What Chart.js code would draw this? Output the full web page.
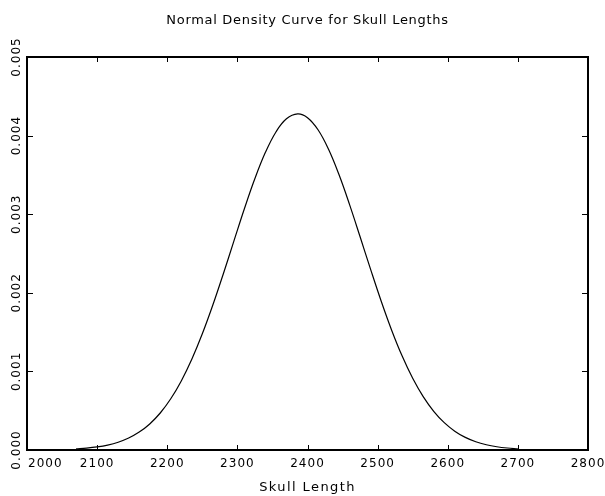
<!DOCTYPE html>
<html>
<head>
<meta charset="utf-8">
<script src="https://cdn.jsdelivr.net/npm/chart.js@4"></script>
<style>
  html, body { margin: 0; padding: 0; background: #fff; }
  #wrap { width: 605px; height: 496px; }
</style>
</head>
<body>
<div id="wrap"><canvas id="chart" width="605" height="496"></canvas></div>
<script>
// values
const skullLength = [2070, 2085, 2100, 2115, 2130, 2145, 2160, 2175, 2190, 2205, 2220, 2235, 2250, 2265, 2280, 2295, 2310, 2325, 2340, 2355, 2370, 2386,
                     2400, 2415, 2430, 2445, 2460, 2475, 2490, 2505, 2520, 2535, 2550, 2565, 2580, 2595, 2610, 2625, 2640, 2655, 2670, 2685, 2700];
const density     = [0.0000138, 0.0000235, 0.0000390, 0.0000629, 0.0000991, 0.0001521, 0.0002275, 0.0003315, 0.0004707, 0.0006515, 0.0008784,
                     0.0011541, 0.0014779, 0.0018442, 0.0022427, 0.0026572, 0.0030688, 0.0034532, 0.0037867, 0.0040464, 0.0042136, 0.0042760,
                     0.0042281, 0.0040743, 0.0038260, 0.0035011, 0.0031221, 0.0027130, 0.0022975, 0.0018958, 0.0015245, 0.0011946, 0.0009122,
                     0.0006789, 0.0004923, 0.0003479, 0.0002395, 0.0001607, 0.0001051, 0.0000670, 0.0000416, 0.0000252, 0.0000148];
const xTicks = [2000, 2100, 2200, 2300, 2400, 2500, 2600, 2700, 2800];
const yTicks = [0, 0.001, 0.002, 0.003, 0.004, 0.005];
const yTickLabels = ['0.000', '0.001', '0.002', '0.003', '0.004', '0.005'];

const chartTitle = 'Normal Density Curve for Skull Lengths';
const xTitle     = 'Skull Length';

const FONT = '"DejaVu Sans", sans-serif';

// frame, inward ticks and labels drawn from the chart's own scales
const framePlugin = {
    id: 'frame',
    afterDraw(chart) {
        const ctx = chart.ctx;
        const a   = chart.chartArea;
        const xs  = chart.scales.x;
        const ys  = chart.scales.y;

        ctx.save();
        ctx.strokeStyle = '#000';
        ctx.lineWidth = 2;
        ctx.strokeRect(a.left, a.top, a.right - a.left, a.bottom - a.top);

        ctx.lineWidth = 1;
        ctx.beginPath();
        xTicks.forEach(v => {
            const px = Math.round(xs.getPixelForValue(v)) + 0.5;
            ctx.moveTo(px, a.bottom); ctx.lineTo(px, a.bottom - 5);
            ctx.moveTo(px, a.top);    ctx.lineTo(px, a.top + 5);
        });
        yTicks.forEach(v => {
            const py = Math.round(ys.getPixelForValue(v)) + 0.5;
            ctx.moveTo(a.left, py);  ctx.lineTo(a.left + 6, py);
            ctx.moveTo(a.right, py); ctx.lineTo(a.right - 6, py);
        });
        ctx.stroke();

        ctx.fillStyle = '#000';
        ctx.font = '12px ' + FONT;
        ctx.letterSpacing = '1px';
        ctx.textBaseline = 'middle';
        xTicks.forEach((v, i) => {
            const px = xs.getPixelForValue(v);
            ctx.textAlign = i === 0 ? 'left' : 'center';
            ctx.fillText(String(v), i === 0 ? px + 1 : px, a.bottom + 14);
        });

        yTicks.forEach((v, i) => {
            const py = ys.getPixelForValue(v);
            ctx.save();
            ctx.translate(17, py);
            ctx.rotate(-Math.PI / 2);
            ctx.textAlign = 'center';
            ctx.fillText(yTickLabels[i], 0, 0);
            ctx.restore();
        });

        ctx.font = '13px ' + FONT;
        ctx.textAlign = 'center';
        const cx = (a.left + a.right) / 2;
        ctx.letterSpacing = '1.4px';
        ctx.fillText(xTitle, cx, 488);
        ctx.letterSpacing = '0.7px';
        ctx.fillText(chartTitle, cx, 21);
        ctx.restore();
    }
};

new Chart(document.getElementById('chart'), {
    type: 'scatter',
    data: {
        datasets: [{
            data: skullLength.map((x, i) => ({ x, y: density[i] })),
            showLine: true,
            borderColor: '#000',
            borderWidth: 1.2,
            pointRadius: 0,
            tension: 0.4,
            fill: false
        }]
    },
    options: {
        responsive: false,
        animation: false,
        layout: { padding: { left: 27, right: 17, top: 57, bottom: 46 } },
        plugins: { legend: { display: false }, tooltip: { enabled: false } },
        scales: {
            x: { type: 'linear', min: 2000, max: 2800, display: false },
            y: { type: 'linear', min: 0, max: 0.005, display: false }
        }
    },
    plugins: [framePlugin]
});
</script>
</body>
</html>
